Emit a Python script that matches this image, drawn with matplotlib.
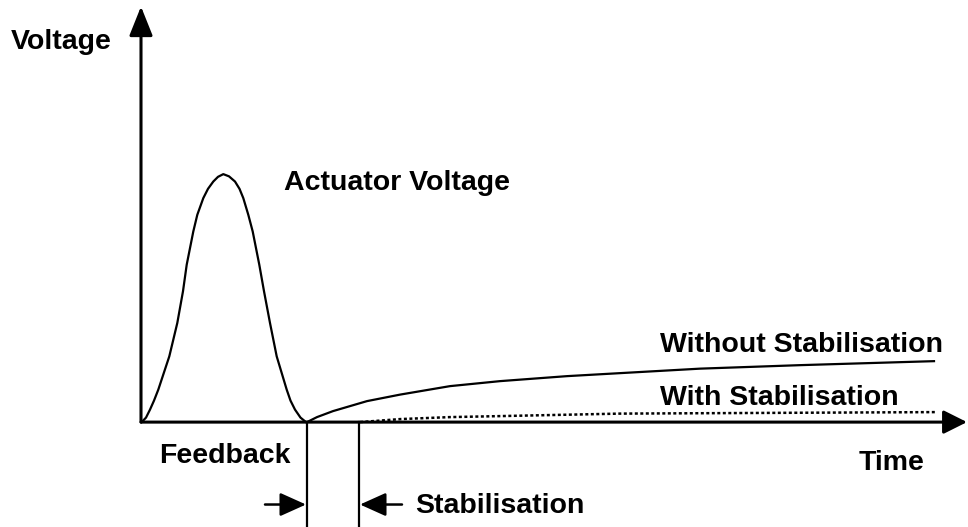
import matplotlib.pyplot as plt

# --- dados (tempo, tensão) ---
pulse_t = [0.007, 0.05, 0.09, 0.13, 0.173, 0.283, 0.363, 0.42, 0.457, 0.523, 0.563,
           0.623, 0.67, 0.723, 0.77, 0.823, 0.88, 0.94, 0.985, 1.023, 1.073, 1.117,
           1.183, 1.23, 1.29, 1.357, 1.457, 1.495, 1.54, 1.595, 1.65]
pulse_v = [0.0, 0.045, 0.125, 0.215, 0.325, 0.658, 0.992, 1.31, 1.575, 1.908, 2.075,
           2.242, 2.335, 2.408, 2.455, 2.482, 2.46, 2.408, 2.335, 2.242, 2.075, 1.908,
           1.575, 1.31, 0.992, 0.658, 0.325, 0.215, 0.125, 0.045, 0.0]

without_t = [1.66, 1.76, 1.92, 2.26, 2.59, 3.09, 3.59, 4.26, 4.79, 5.59, 6.59, 7.93]
without_v = [0.00, 0.05, 0.11, 0.21, 0.275, 0.36, 0.41, 0.46, 0.49, 0.535, 0.57, 0.61]

with_t = [2.19, 2.59, 3.09, 3.59, 4.79, 7.94]
with_v = [0.00, 0.03, 0.05, 0.06, 0.085, 0.10]

feedback_end = 1.66      # fim do feedback
stab_end = 2.18          # fim da estabilização

FONT = dict(family='Liberation Sans', weight='bold', fontsize=20.5, color='black')
# --------------------

fig = plt.figure(figsize=(9.68, 5.27), dpi=100)
ax = fig.add_axes([0, 0, 1, 1])
ax.set_xlim(-1.41, 8.27)
ax.set_ylim(-1.05, 4.225)
ax.axis('off')

# eixos com setas
ax.annotate('', xy=(8.26, 0), xytext=(0, 0),
            arrowprops=dict(arrowstyle='-|>,head_length=0.72,head_width=0.36',
                            mutation_scale=20, lw=2.2, color='black',
                            shrinkA=0, shrinkB=0))
ax.annotate('', xy=(0, 4.16), xytext=(0, 0),
            arrowprops=dict(arrowstyle='-|>,head_length=0.9,head_width=0.36',
                            mutation_scale=20, lw=2.2, color='black',
                            shrinkA=0, shrinkB=0))

# curvas
ax.plot(pulse_t, pulse_v, color='black', lw=1.6, solid_joinstyle='round')
ax.plot(without_t, without_v, color='black', lw=1.6, solid_joinstyle='round')
ax.plot(with_t, with_v, color='black', lw=1.8, linestyle=(0, (1.2, 1.0)))

# marcações verticais
ax.plot([feedback_end, feedback_end], [0, -1.05], color='black', lw=1.6)
ax.plot([stab_end, stab_end], [0, -1.05], color='black', lw=1.6)

ax.annotate('', xy=(feedback_end - 0.01, -0.825), xytext=(1.24, -0.825),
            arrowprops=dict(arrowstyle='-|>,head_length=0.8,head_width=0.36',
                            mutation_scale=20, lw=1.8, color='black',
                            shrinkA=0, shrinkB=0))
ax.annotate('', xy=(stab_end + 0.01, -0.825), xytext=(2.61, -0.825),
            arrowprops=dict(arrowstyle='-|>,head_length=0.8,head_width=0.36',
                            mutation_scale=20, lw=1.8, color='black',
                            shrinkA=0, shrinkB=0))

# textos
ax.text(-1.30, 3.735, 'Voltage', va='baseline', ha='left', **FONT)
ax.text(1.43, 2.325, 'Actuator Voltage', va='baseline', ha='left', **FONT)
ax.text(5.19, 0.705, 'Without Stabilisation', va='baseline', ha='left', **FONT)
ax.text(5.19, 0.175, 'With Stabilisation', va='baseline', ha='left', **FONT)
ax.text(7.18, -0.48, 'Time', va='baseline', ha='left', **FONT)
ax.text(0.18, -0.405, 'Feedback', va='baseline', ha='left', **FONT)
ax.text(2.74, -0.905, 'Stabilisation', va='baseline', ha='left', **FONT)

plt.savefig('out.png', dpi=100)
plt.close(fig)
